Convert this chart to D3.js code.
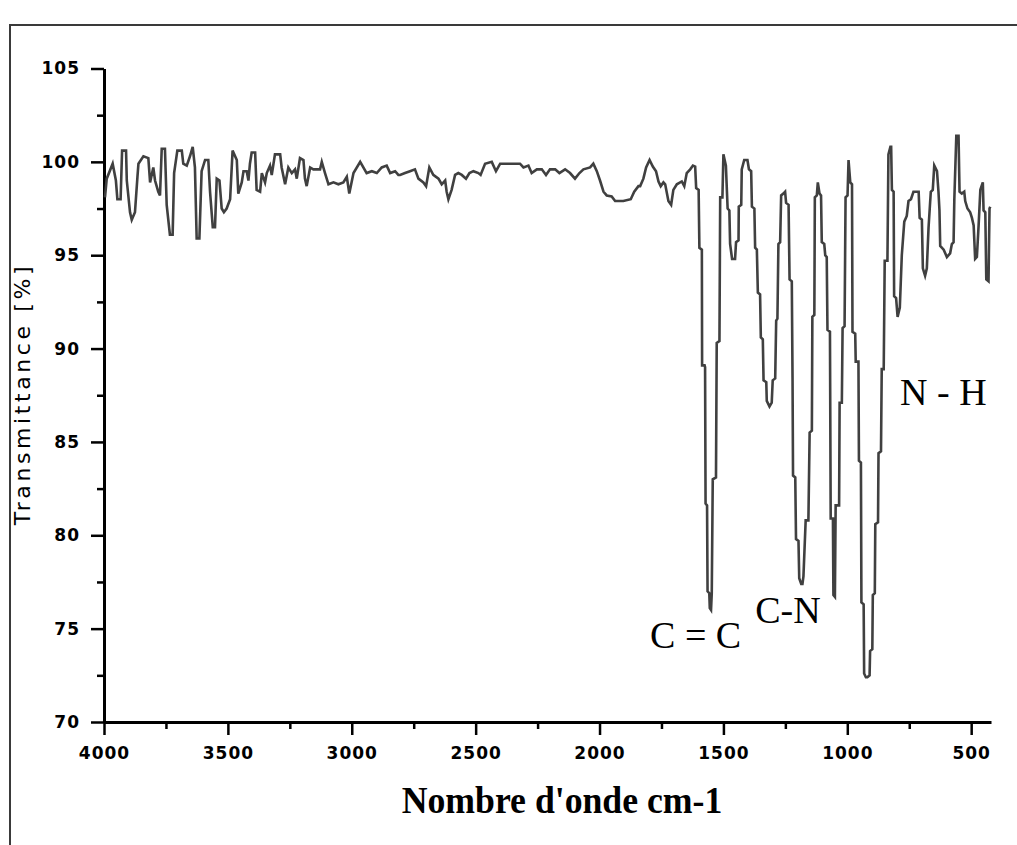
<!DOCTYPE html>
<html>
<head>
<meta charset="utf-8">
<script src="https://cdn.jsdelivr.net/npm/d3@7"></script>
<style>
  body { margin: 0; background: #fff; }
  svg { display: block; }
</style>
</head>
<body>
<svg id="drawing_region"></svg>
<script>
// IR spectrum: wavenumber (cm-1) / transmittance (%)
const wavenumbers = [
  3996, 3989, 3965, 3952, 3946, 3933, 3927, 3911, 3908, 3895, 3888, 3875, 3865, 3861, 3841, 3821,
  3814, 3801, 3794, 3781, 3774, 3767, 3754, 3747, 3734, 3723, 3717, 3704, 3686, 3680, 3666, 3653,
  3642, 3633, 3626, 3615, 3606, 3592, 3579, 3572, 3561, 3552, 3545, 3534, 3525, 3516, 3505, 3491,
  3481, 3464, 3458, 3444, 3437, 3424, 3417, 3411, 3404, 3390, 3384, 3370, 3363, 3350, 3343, 3330,
  3323, 3310, 3289, 3283, 3269, 3256, 3242, 3229, 3222, 3209, 3195, 3189, 3182, 3168, 3155, 3128,
  3121, 3108, 3094, 3074, 3054, 3034, 3020, 3010, 2993, 2966, 2940, 2919, 2899, 2879, 2859, 2845,
  2825, 2812,
  2805, 2785, 2765, 2745, 2731, 2711, 2700, 2687, 2671, 2650, 2637, 2623, 2617, 2610, 2597, 2583,
  2570, 2556, 2539, 2525, 2509, 2489, 2480, 2462, 2435, 2418, 2401, 2321, 2307, 2287, 2274, 2253,
  2233, 2216, 2200, 2179, 2162, 2139, 2119, 2099, 2081, 2065, 2038, 2025, 2011, 1998, 1984, 1971,
  1951, 1937, 1904, 1874, 1860, 1843,
  1836, 1823, 1812, 1798, 1785, 1772, 1762, 1753, 1742, 1735, 1722, 1711, 1702, 1688, 1668, 1658,
  1648, 1634, 1623, 1614, 1610, 1600, 1597, 1587, 1586, 1576, 1574, 1572, 1566, 1564, 1557, 1555,
  1550, 1547, 1543, 1530, 1527, 1516, 1513, 1504, 1500, 1490, 1483, 1476, 1473, 1465, 1453, 1449,
  1439, 1438, 1428, 1426, 1416, 1403, 1397, 1388, 1385, 1375, 1372, 1365, 1361, 1352, 1349, 1341,
  1338, 1327, 1325, 1314, 1305, 1301, 1291, 1287, 1282, 1278, 1271, 1267, 1258, 1251, 1247, 1237,
  1233, 1224, 1221, 1219, 1210, 1207, 1197, 1194, 1186, 1181, 1177, 1168, 1157, 1152, 1143, 1141,
  1133, 1131, 1123, 1119, 1112, 1106, 1103, 1093, 1089, 1083, 1080, 1070, 1067, 1058, 1056, 1050,
  1047, 1033, 1031, 1022, 1019, 1011, 1007, 999, 995, 988, 981, 979, 968, 966, 955, 953,
  945, 943, 934, 932, 925, 919, 910, 908, 899, 897, 889, 887, 876, 874, 864, 861,
  853, 849, 838, 834, 826, 823, 820, 813, 811, 803, 797, 788, 780, 770, 760, 753,
  743, 733, 712, 708, 699, 695, 686, 679, 672, 663, 655, 649, 638, 632, 628, 625,
  611, 598, 585, 578, 571, 568, 560, 551, 547, 538, 528, 524, 515, 504, 497, 490,
  484, 477, 470, 463, 453, 450, 443, 439, 430, 426, 423
];
const transmittance = [
  98.1, 99.1, 99.9, 99.0, 98.0, 98.0, 100.6, 100.6, 99.0, 97.3, 96.9, 97.3, 99.2, 99.9, 100.3, 100.2,
  98.9, 99.7, 99.0, 98.4, 98.2, 100.7, 100.7, 97.7, 96.1, 96.1, 99.4, 100.6, 100.6, 99.9, 99.8, 100.3,
  100.8, 99.7, 95.9, 95.9, 99.5, 100.1, 100.1, 98.4, 96.5, 96.5, 99.1, 99.0, 97.5, 97.3, 97.5, 98.0,
  100.6, 100.1, 98.3, 98.9, 99.5, 99.5, 99.0, 99.9, 100.5, 100.5, 98.5, 98.4, 99.4, 98.9, 99.4, 99.8,
  99.3, 100.4, 100.4, 99.7, 98.8, 99.7, 99.4, 99.6, 99.1, 100.2, 100.1, 99.1, 98.7, 99.7, 99.6, 99.6,
  100.0, 99.4, 98.8, 98.9, 98.8, 98.9, 99.2, 98.3, 99.4, 100.0, 99.4, 99.5, 99.4, 99.7, 99.8, 99.4,
  99.5, 99.3,
  99.3, 99.4, 99.5, 99.6, 99.1, 98.9, 98.7, 99.7, 99.3, 99.1, 98.8, 99.0, 98.4, 98.0, 98.5, 99.3,
  99.4, 99.3, 99.1, 99.4, 99.5, 99.4, 99.3, 99.9, 100.0, 99.5, 99.9, 99.9, 99.7, 99.8, 99.4, 99.6,
  99.6, 99.3, 99.6, 99.6, 99.4, 99.6, 99.4, 99.1, 99.4, 99.6, 99.7, 99.9, 99.5, 99.0, 98.4, 98.2,
  98.15, 97.9, 97.9, 98.0, 98.4, 98.7,
  98.7, 99.1, 99.7, 100.1, 99.75, 99.5, 98.95, 98.7, 98.9, 98.8, 97.9, 97.7, 98.5, 98.8, 98.95, 98.7,
  99.4, 99.6, 99.8, 99.75, 98.6, 98.5, 95.4, 95.3, 89.1, 89.1, 89.0, 81.7, 81.6, 77.0, 76.9, 76.1,
  76.0, 76.9, 83.0, 83.1, 90.3, 90.4, 98.1, 98.1, 100.4, 99.8, 97.5, 97.4, 95.6, 94.8, 94.8, 95.7,
  95.8, 97.6, 97.7, 99.6, 100.1, 100.1, 99.6, 99.5, 97.6, 97.5, 95.4, 95.3, 93.0, 92.9, 90.6, 90.5,
  88.3, 88.2, 87.2, 86.9, 87.1, 88.3, 88.4, 91.5, 91.6, 95.6, 95.7, 98.2, 98.3, 98.4, 97.8, 97.7,
  93.7, 93.6, 88.4, 83.2, 83.1, 79.8, 79.7, 77.7, 77.4, 77.4, 77.8, 80.8, 80.8, 85.5, 85.6, 91.7,
  91.8, 98.1, 98.2, 98.9, 98.3, 98.2, 95.7, 95.6, 95.0, 94.9, 91.0, 90.9, 80.9, 80.9, 76.8, 76.7,
  81.6, 81.6, 87.1, 87.1, 91.1, 91.2, 98.1, 98.2, 100.1, 98.9, 98.8, 90.9, 90.8, 89.3, 89.3, 84.0,
  83.9, 76.4, 76.3, 72.6, 72.4, 72.4, 72.5, 73.8, 73.9, 76.8, 76.9, 80.6, 80.7, 84.4, 84.5, 88.9,
  88.9, 94.7, 94.7, 100.4, 100.8, 100.8, 98.5, 98.4, 92.8, 92.7, 91.7, 92.2, 95.0, 96.8, 97.1, 97.9,
  98.0, 98.4, 98.4, 97.0, 96.9, 94.3, 93.9, 94.3, 96.5, 98.4, 98.5, 99.8, 99.5, 98.4, 97.4, 95.5,
  95.3, 94.9, 95.1, 95.6, 95.7, 98.0, 101.4, 101.4, 98.4, 98.3, 98.4, 97.9, 97.5, 97.3, 97.0, 96.6,
  94.8, 94.9, 96.6, 98.5, 98.9, 97.4, 97.3, 93.7, 93.6, 97.5, 97.6
];

const xTicks = [4000, 3500, 3000, 2500, 2000, 1500, 1000, 500];
const xMinorTicks = [3750, 3250, 2750, 2250, 1750, 1250, 750];
const yTicks = [70, 75, 80, 85, 90, 95, 100, 105];
const yMinorTicks = [72.5, 77.5, 82.5, 87.5, 92.5, 97.5, 102.5];

// band labels, anchored in data space (wavenumber, transmittance at baseline)
const bandText = ["C = C", "C-N", "N - H"];
const bandWn = [1796, 1372, 787];
const bandT = [73.96, 75.3, 86.96];

const config = {
    parent: '#drawing_region',
    width: 1017,
    height: 845,
    margin: {top: 68.5, right: 26, bottom: 123, left: 104}
};

class Spectrum {
    constructor(config) {
        this.config = config;
        this.data = wavenumbers.map((w, i) => ({wn: w, t: transmittance[i]}));
        this.init();
    }

    init() {
        let self = this;
        const c = self.config;
        self.inner_w = c.width - c.margin.left - c.margin.right;
        self.inner_h = c.height - c.margin.top - c.margin.bottom;

        self.svg = d3.select(c.parent)
            .attr('width', c.width)
            .attr('height', c.height);

        self.svg.append('rect')
            .attr('width', c.width).attr('height', c.height)
            .attr('fill', '#fff');

        // outer frame (top + left only, like the scan)
        self.svg.append('path')
            .attr('d', `M10,${c.height} V25 H${c.width}`)
            .attr('fill', 'none')
            .attr('stroke', '#3a3a3a')
            .attr('stroke-width', 2);

        self.chart = self.svg.append('g')
            .attr('transform', `translate(${c.margin.left}, ${c.margin.top})`);

        self.x = d3.scaleLinear().domain([4000, 420]).range([0, self.inner_w]);
        self.y = d3.scaleLinear().domain([70, 105]).range([self.inner_h, 0]);
    }

    render() {
        let self = this;
        const tickFont = g => g.selectAll('text')
            .attr('font-family', 'DejaVu Sans, sans-serif')
            .attr('font-weight', 'bold')
            .attr('font-size', '17px')
            .attr('letter-spacing', '1px')
            .attr('fill', '#000');
        const lineStyle = g => {
            g.selectAll('.domain').attr('stroke', '#000').attr('stroke-width', 3);
            g.selectAll('.tick line').attr('stroke', '#000').attr('stroke-width', 2.5);
        };

        // minor ticks
        self.chart.append('g')
            .attr('transform', `translate(0, ${self.inner_h})`)
            .call(d3.axisBottom(self.x).tickValues(xMinorTicks).tickSize(7).tickFormat(''))
            .call(g => g.select('.domain').remove())
            .call(lineStyle);
        self.chart.append('g')
            .call(d3.axisLeft(self.y).tickValues(yMinorTicks).tickSize(7).tickFormat(''))
            .call(g => g.select('.domain').remove())
            .call(lineStyle);

        // major axes
        self.chart.append('g')
            .attr('transform', `translate(0, ${self.inner_h})`)
            .call(d3.axisBottom(self.x).tickValues(xTicks).tickSize(13).tickSizeOuter(0).tickPadding(12).tickFormat(d3.format('d')))
            .call(lineStyle)
            .call(tickFont);
        self.chart.append('g')
            .call(d3.axisLeft(self.y).tickValues(yTicks).tickSize(13).tickSizeOuter(0).tickPadding(11).tickFormat(d3.format('d')))
            .call(lineStyle)
            .call(tickFont);

        // spectrum
        const line = d3.line()
            .x(d => self.x(d.wn))
            .y(d => self.y(d.t));
        self.chart.append('path')
            .datum(self.data)
            .attr('d', line)
            .attr('fill', 'none')
            .attr('stroke', '#404040')
            .attr('stroke-width', 2.6)
            .attr('stroke-linejoin', 'miter');

        // band labels
        self.chart.selectAll('.band')
            .data(bandText)
            .enter()
            .append('text')
            .attr('class', 'band')
            .attr('x', (d, i) => self.x(bandWn[i]))
            .attr('y', (d, i) => self.y(bandT[i]))
            .attr('font-family', 'Liberation Serif, Times New Roman, serif')
            .attr('font-size', '38px')
            .attr('fill', '#000')
            .text(d => d);

        // axis titles
        self.svg.append('text')
            .attr('transform', 'translate(562, 813) scale(0.94, 1)')
            .attr('text-anchor', 'middle')
            .attr('font-family', 'Liberation Serif, Times New Roman, serif')
            .attr('font-weight', 'bold')
            .attr('font-size', '38px')
            .attr('fill', '#000')
            .text("Nombre d'onde cm-1");

        self.svg.append('text')
            .attr('transform', 'translate(30, 394) rotate(-90)')
            .attr('text-anchor', 'middle')
            .attr('font-family', 'DejaVu Sans, sans-serif')
            .attr('font-size', '22px')
            .attr('letter-spacing', '3.6px')
            .attr('fill', '#000')
            .text('Transmittance [%]');
    }
}

const chart = new Spectrum(config);
chart.render();
</script>
</body>
</html>
